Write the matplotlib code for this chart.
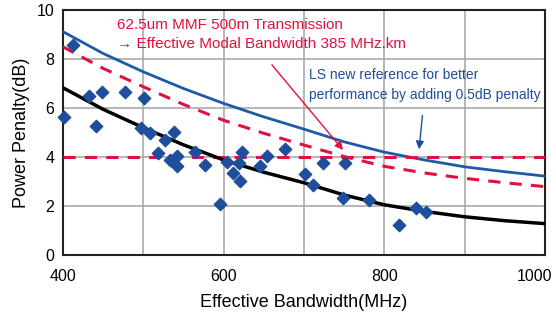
import matplotlib

matplotlib.use("Agg")
import matplotlib.pyplot as plt
from matplotlib.transforms import ScaledTranslation

plt.rcParams["font.family"] = ["Liberation Sans", "DejaVu Sans"]

# measured points (effective bandwidth MHz, power penalty dB)
meas_bw = [402, 413, 433, 441, 449, 478, 501, 497, 509, 519, 527, 538, 534,
           542, 542, 565, 577, 596, 604, 612, 619, 623, 621, 646, 654, 676,
           702, 711, 724, 751, 749, 781, 819, 839, 852]
meas_pp = [5.62, 8.57, 6.5, 5.28, 6.64, 6.64, 6.4, 5.17, 4.99, 4.15, 4.69,
           5.02, 3.88, 4.04, 3.63, 4.19, 3.67, 2.08, 3.81, 3.33, 3.77, 4.19,
           3.02, 3.63, 4.04, 4.33, 3.29, 2.86, 3.77, 3.77, 2.34, 2.23, 1.22,
           1.93, 1.76]

# curves
curve_bw = [400, 450, 500, 550, 600, 650, 700, 750, 800, 850, 900, 950, 1000]
fit_pp = [6.83, 5.95, 5.2, 4.5, 3.88, 3.38, 2.95, 2.45, 2.05, 1.78, 1.56, 1.4, 1.28]
ref_pp = [8.5, 7.62, 6.87, 6.15, 5.5, 4.97, 4.49, 4.02, 3.62, 3.35, 3.13, 2.95, 2.79]
ls_pp = [9.12, 8.23, 7.48, 6.8, 6.19, 5.64, 5.14, 4.62, 4.2, 3.88, 3.6, 3.4, 3.22]
limit_pp = 4.0

BLUE = "#1f4e9c"
LINE_BLUE = "#1d5aa8"
RED = "#e2103f"

fig = plt.figure(figsize=(5.56, 3.24), dpi=100)
ax = fig.add_axes([0.113, 0.213, 0.867, 0.756])

ax.plot(curve_bw, ls_pp, color=LINE_BLUE, linewidth=2, zorder=3)
ax.plot(curve_bw, ref_pp, color=RED, linewidth=2.2, linestyle=(0, (4, 3)), zorder=3)
ax.axhline(limit_pp, color=RED, linewidth=2.2, linestyle=(0, (4, 3)), zorder=3)
ax.plot(curve_bw, fit_pp, color="black", linewidth=2.5, zorder=3)
ax.scatter(meas_bw, meas_pp, marker="D", s=40, color=BLUE, zorder=4, clip_on=False)

ax.set_xlim(400, 1000)
ax.set_ylim(0, 10)
ax.set_xticks(range(400, 1001, 100))
ax.set_xticklabels(["400", "", "600", "", "800", "", "1000"])
ax.set_yticks(range(0, 11, 2))
ax.tick_params(length=0, labelsize=11.5, pad=10)
ax.tick_params(axis="y", pad=6)
# last x label sits a bit inward so it stays on the canvas
last = ax.get_xticklabels()[-1]
last.set_transform(last.get_transform() + ScaledTranslation(-0.1, 0, fig.dpi_scale_trans))
ax.grid(True, color="#aaaaaa", linewidth=1.2)
ax.set_axisbelow(True)
for s in ax.spines.values():
    s.set_color("#222222")
    s.set_linewidth(1.5)

ax.set_xlabel("Effective Bandwidth(MHz)", fontsize=13, labelpad=7)
ax.set_ylabel("Power Penalty(dB)", fontsize=13, labelpad=5)

ax.text(467, 9.4, "62.5um MMF 500m Transmission", color=RED, fontsize=11, va="center")
ax.text(467, 8.6, "\u2192 Effective Modal Bandwidth 385 MHz.km", color=RED, fontsize=11, va="center")
ax.annotate("", xy=(751, 4.2), xytext=(658, 7.85),
            arrowprops=dict(arrowstyle="-|>", color=RED, lw=1, mutation_scale=12))

ax.text(706, 7.35, "LS new reference for better", color=BLUE, fontsize=10, va="center")
ax.text(706, 6.55, "performance by adding 0.5dB penalty", color=BLUE, fontsize=10, va="center")
ax.annotate("", xy=(843, 4.2), xytext=(848, 5.8),
            arrowprops=dict(arrowstyle="-|>", color=BLUE, lw=1, mutation_scale=12))

fig.savefig("out.png")
